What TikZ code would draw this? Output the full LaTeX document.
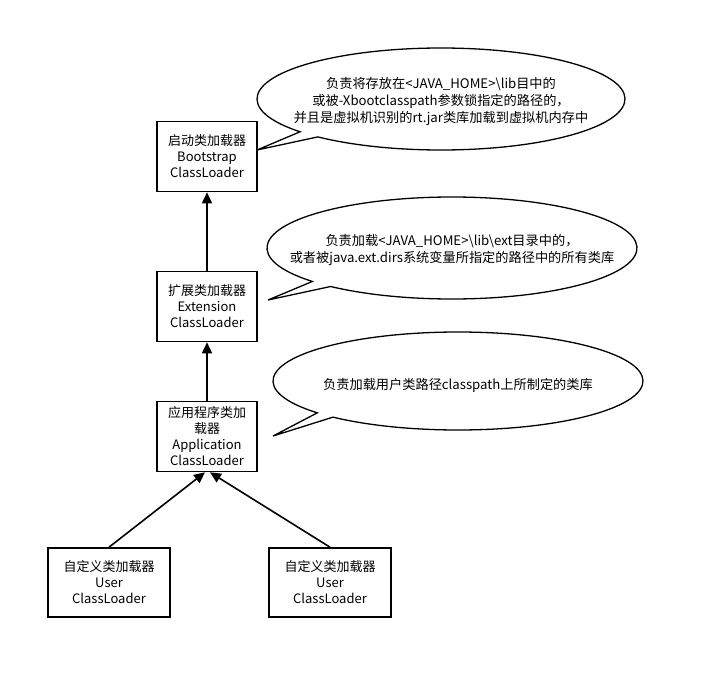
\documentclass[tikz,border=0pt]{standalone}
\usepackage{fontspec}
\setmainfont{Noto Sans CJK SC}
\usetikzlibrary{arrows.meta}
\tikzset{
  loader/.style={draw, line width=1.6pt, minimum width=100pt, minimum height=70pt, align=center, inner sep=2pt, font=\fontsize{13}{16}\selectfont},
  notetext/.style={align=center, inner sep=0pt, font=\fontsize{13.2}{17}\selectfont},
  bubble/.style={draw, line width=1.3pt, fill=white, line join=miter},
  up/.style={-{Triangle[length=11pt,width=10pt]}, line width=1.6pt}
}
\begin{document}
\begin{tikzpicture}[x=1pt,y=-1pt]
\useasboundingbox (0,0) rectangle (704,680);
\fill[white] (0,0) rectangle (704,680);
% boxes
\node[loader] (boot) at (207,156.5) {启动类加载器\\Bootstrap\\ClassLoader};
\node[loader] (ext) at (207,306.5) {扩展类加载器\\Extension\\ClassLoader};
\node[loader] (app) at (207,436.5) {应用程序类加\\载器\\Application\\ClassLoader};
\node[loader, minimum width=122pt, minimum height=69pt] (u1) at (109,582.5) {自定义类加载器\\User\\ClassLoader};
\node[loader, minimum width=122pt, minimum height=69pt] (u2) at (330,582.5) {自定义类加载器\\User\\ClassLoader};
% arrows
\draw[up] (ext.north) -- (boot.south);
\draw[up] (app.north) -- (ext.south);
\draw[up] (u1.north) -- ([xshift=-2pt]app.south);
\draw[up] (u2.north) -- ([xshift=3pt]app.south);
% callout 1
\coordinate (c1) at (441,99);
\coordinate (t1) at (257,150);
\draw[bubble] (c1) ++(140:184 and 51) arc[start angle=140, end angle=492, x radius=184, y radius=51] -- (t1) -- cycle;
\node[notetext] (n1) at (441,102)
  {负责将存放在<JAVA\_HOME>\textbackslash lib目中的\\或被-Xbootclasspath参数锁指定的路径的，\\并且是虚拟机识别的rt.jar类库加载到虚拟机内存中};
% callout 2
\coordinate (c2) at (452,248);
\coordinate (t2) at (268,300);
\draw[bubble] (c2) ++(139:185 and 51) arc[start angle=139, end angle=491, x radius=185, y radius=51] -- (t2) -- cycle;
\node[notetext] (n2) at (452,250)
  {负责加载<JAVA\_HOME>\textbackslash lib\textbackslash ext目录中的，\\或者被java.ext.dirs系统变量所指定的路径中的所有类库};
% callout 3
\coordinate (c3) at (458,381);
\coordinate (t3) at (273,436);
\draw[bubble] (c3) ++(139.5:185 and 49) arc[start angle=139.5, end angle=492.5, x radius=185, y radius=49] -- (t3) -- cycle;
\node[notetext] (n3) at (458,385)
  {负责加载用户类路径classpath上所制定的类库};
\end{tikzpicture}
\end{document}
